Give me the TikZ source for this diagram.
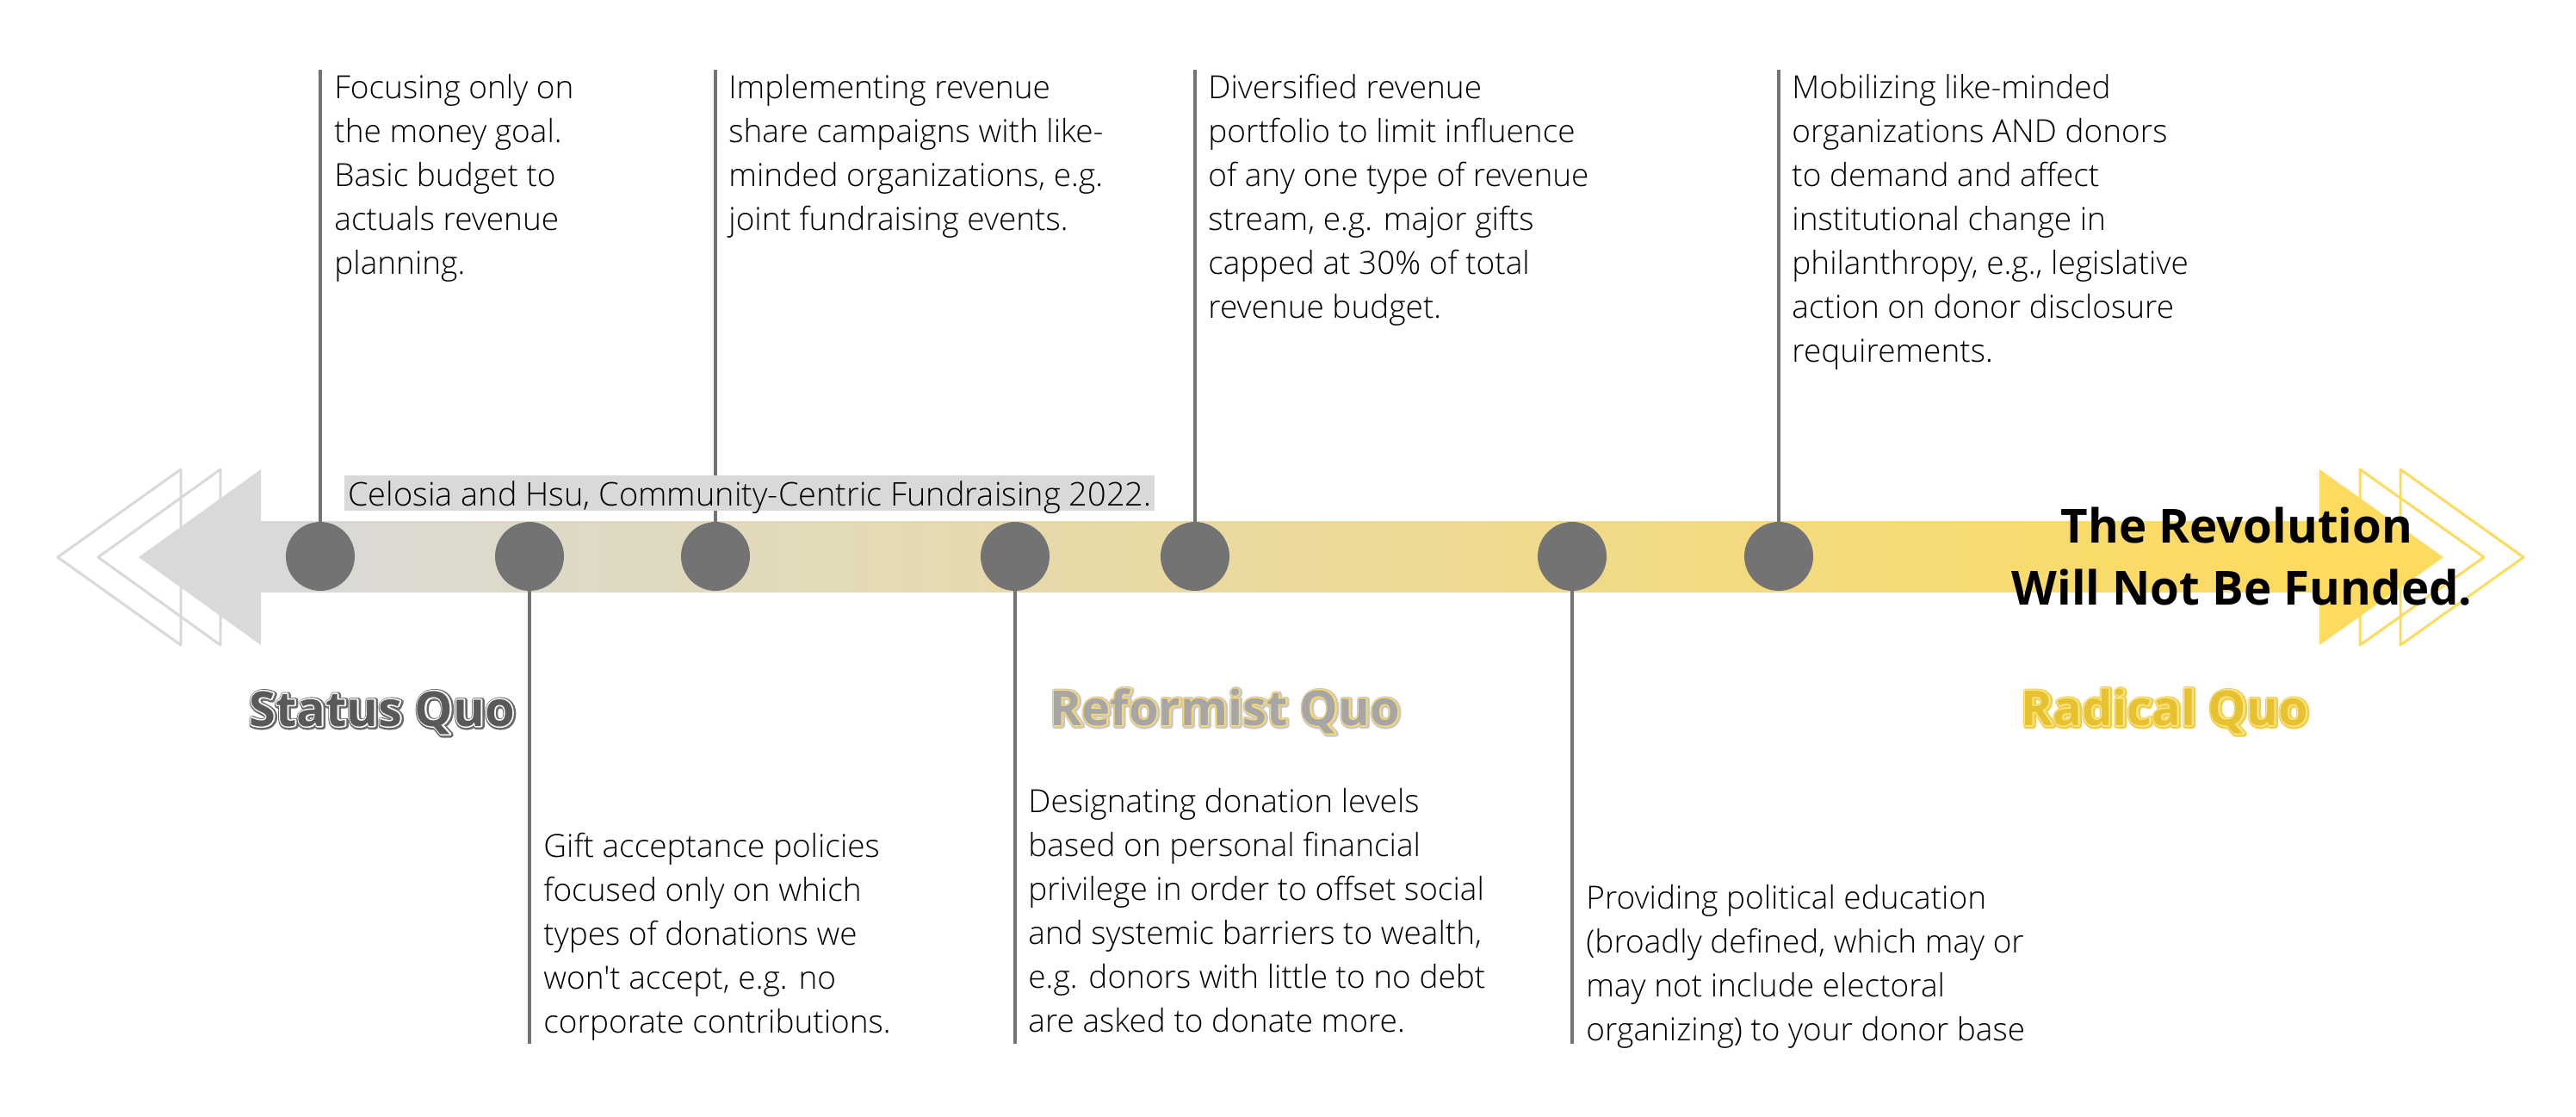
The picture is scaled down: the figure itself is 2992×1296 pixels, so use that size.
\documentclass[tikz,border=0pt]{standalone}
\usepackage{fontspec}
\usetikzlibrary{calc}
\setmainfont{Open Sans}
\IfFontExistsTF{Open Sans Light}{\newfontfamily\bodyfont{Open Sans Light}}{\newfontfamily\bodyfont{Open Sans}}
\IfFontExistsTF{Open Sans ExtraBold}{\newfontfamily\heavyfont{Open Sans ExtraBold}}{\newcommand\heavyfont{\bfseries}}
\definecolor{lg}{HTML}{D9D9D9}
\definecolor{yl}{HTML}{FDDB5E}
\definecolor{dg}{HTML}{737373}
\definecolor{sqfill}{HTML}{595959}
\definecolor{sqout}{HTML}{6A6A6A}
\definecolor{rffill}{HTML}{A6A6A6}
\definecolor{rfline}{HTML}{FFD966}
\definecolor{rfout}{HTML}{C8C8C8}
\definecolor{rdfill}{HTML}{E6C231}
\definecolor{rdline}{HTML}{FFE48A}
\definecolor{rdout}{HTML}{EFCF4A}
\newcommand\tb[1]{\vtop{\baselineskip=25.5pt\lineskiplimit=-100pt\lineskip=0pt\halign{##\hfil\cr#1\crcr}}}
\newcommand\strk[2]{\special{pdf:literal direct 1 Tr #1 w 1 j}#2\special{pdf:literal direct 0 Tr}}
% name, position, fill, ring colour, outer colour, text
\newcommand\outlined[6]{%
  \node[lab,text=#5] at ($(#2)+(0.8,0.8)$) {\strk{3.2}{#6}};
  \node[lab,text=#4] at (#2) {\strk{1.5}{#6}};
  \node[lab,text=#3] (#1) at (#2) {#6};}
\tikzset{
  body/.style={inner sep=0pt, anchor=base west, font=\bodyfont\fontsize{18.5}{25.5}\selectfont, text=black},
  lab/.style={inner sep=0pt, anchor=base west, font=\heavyfont\fontsize{28}{30}\selectfont},
  ttl/.style={inner sep=0pt, anchor=base, font=\bfseries\fontsize{27.3}{30}\selectfont, text=black},
  stem/.style={draw=dg, line width=2pt},
  dot/.style={circle, fill=dg, minimum size=40pt, inner sep=0pt},
  chev/.style={line width=1.5pt, line join=round}
}
\begin{document}
\begin{tikzpicture}[x=0.5pt,y=-0.5pt]
\useasboundingbox (0,0) rectangle (2992,1296);
\fill[white] (0,0) rectangle (2992,1296);
% chevron outlines
\draw[chev, draw=lg] (67,647) -- (210,545) -- (210,749) -- cycle;
\draw[chev, draw=lg] (114,647) -- (256,545) -- (256,749) -- cycle;
\draw[chev, draw=yl] (2741,545) -- (2885,647) -- (2741,749) -- cycle;
\draw[chev, draw=yl] (2788,545) -- (2931,647) -- (2788,749) -- cycle;
% arrow
\fill[lg] (161,647) -- (303,545) -- (303,749) -- cycle;
\fill[yl] (2694,545) -- (2838,647) -- (2694,749) -- cycle;
\shade[left color=lg, right color=yl] (302,605) rectangle (2695,687);
% stems
\coordinate (p1) at (372,646);
\coordinate (p2) at (615,646);
\coordinate (p3) at (831,646);
\coordinate (p4) at (1179,646);
\coordinate (p5) at (1388,646);
\coordinate (p6) at (1826,646);
\coordinate (p7) at (2066,646);
\coordinate (e1) at (372,81);
\coordinate (e3) at (831,81);
\coordinate (e5) at (1388,81);
\coordinate (e7) at (2066,81);
\coordinate (e2) at (615,1212);
\coordinate (e4) at (1179,1212);
\coordinate (e6) at (1826,1212);
\foreach \i in {1,...,7}{\draw[stem] (p\i) -- (e\i);}
\foreach \i in {1,...,7}{\node[dot] (d\i) at (p\i) {};}
% citation box
\node[fill=lg, anchor=base west, inner xsep=2pt, inner ysep=0pt, text height=17.5pt, text depth=3pt,
      font=\bodyfont\fontsize{18.95}{26}\selectfont] (cite) at (400,587)
      {Celosia and Hsu, Community-Centric Fundraising 2022.};
% top texts
\node[body] (b1) at (388,114) {\tb{Focusing only on\cr the money goal.\cr Basic budget to\cr actuals revenue\cr planning.}};
\node[body] (b3) at (846,114) {\tb{Implementing revenue\cr share campaigns with like-\cr minded organizations, e.g.\cr joint fundraising events.}};
\node[body] (b5) at (1403,114) {\tb{Diversified revenue\cr portfolio to limit influence\cr of any one type of revenue\cr stream, e.g. major gifts\cr capped at 30\% of total\cr revenue budget.}};
\node[body] (b7) at (2081,114) {\tb{Mobilizing like-minded\cr organizations AND donors\cr to demand and affect\cr institutional change in\cr philanthropy, e.g., legislative\cr action on donor disclosure\cr requirements.}};
% bottom texts
\node[body] (b2) at (631,995) {\tb{Gift acceptance policies\cr focused only on which\cr types of donations we\cr won't accept, e.g. no\cr corporate contributions.}};
\node[body] (b4) at (1194,943) {\tb{Designating donation levels\cr based on personal financial\cr privilege in order to offset social\cr and systemic barriers to wealth,\cr e.g. donors with little to no debt\cr are asked to donate more.}};
\node[body] (b6) at (1842,1055) {\tb{Providing political education\cr (broadly defined, which may or\cr may not include electoral\cr organizing) to your donor base}};
% title
\node[ttl] (ti1) at (2598,630) {The Revolution};
\node[ttl] (ti2) at (2604,702) {Will Not Be Funded.};
% labels
\coordinate (l1) at (289,843);
\coordinate (l2) at (1219,842);
\coordinate (l3) at (2347,842);
\outlined{sq}{l1}{sqfill}{white}{sqout}{Status Quo}
\outlined{rf}{l2}{rffill}{rfline}{rfout}{Reformist Quo}
\outlined{rd}{l3}{rdfill}{rdline}{rdout}{Radical Quo}
\end{tikzpicture}
\end{document}
